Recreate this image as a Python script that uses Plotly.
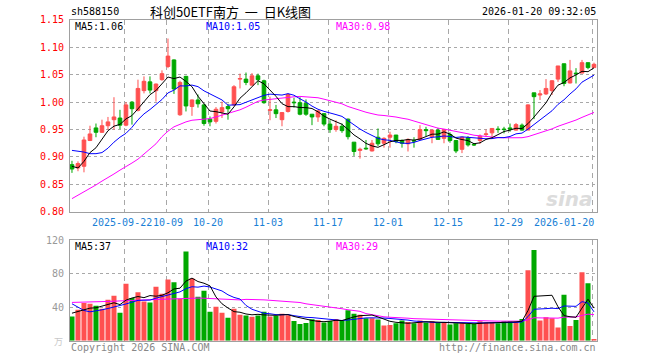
import plotly.graph_objects as go

W, H = 660, 360

# ---------------- data ----------------
opens = [0.886, 0.880, 0.883, 0.930, 0.953, 0.945, 0.957, 0.968, 0.971, 0.958,
         1.000, 0.985, 1.021, 1.037, 1.021, 1.041, 1.065, 1.077, 0.977, 1.047,
         0.992, 1.004, 0.995, 0.969, 0.965, 0.982, 0.992, 0.995, 1.042, 1.042,
         1.031, 1.048, 1.039, 0.985, 0.986, 0.968, 0.983, 1.000, 0.999, 0.998,
         0.978, 0.973, 0.979, 0.960, 0.950, 0.956, 0.969, 0.927, 0.912, 0.916,
         0.911, 0.936, 0.925, 0.936, 0.940, 0.930, 0.924, 0.930, 0.932, 0.950,
         0.937, 0.949, 0.934, 0.941, 0.930, 0.914, 0.935, 0.923, 0.930, 0.941,
         0.944, 0.951, 0.951, 0.953, 0.949, 0.958, 0.949, 1.017, 1.013, 1.015,
         1.021, 1.042, 1.070, 1.035, 1.053, 1.053, 1.072, 1.063]
highs = [0.893, 0.892, 0.937, 0.957, 0.961, 0.968, 0.973, 1.009, 0.986, 1.000,
         1.002, 1.041, 1.047, 1.047, 1.034, 1.058, 1.116, 1.078, 1.039, 1.048,
         1.005, 1.014, 0.997, 0.974, 0.991, 1.001, 0.997, 1.031, 1.052, 1.054,
         1.053, 1.052, 1.041, 1.010, 0.995, 0.982, 1.016, 1.008, 1.009, 1.005,
         0.978, 0.986, 0.980, 0.967, 0.967, 0.961, 0.970, 0.927, 0.917, 0.931,
         0.931, 0.952, 0.936, 0.946, 0.940, 0.932, 0.934, 0.936, 0.958, 0.955,
         0.950, 0.953, 0.950, 0.945, 0.930, 0.937, 0.938, 0.925, 0.941, 0.950,
         0.952, 0.956, 0.955, 0.961, 0.962, 0.961, 0.996, 1.017, 1.022, 1.042,
         1.040, 1.066, 1.070, 1.077, 1.062, 1.077, 1.072, 1.072]
lows = [0.871, 0.874, 0.872, 0.929, 0.936, 0.944, 0.950, 0.950, 0.951, 0.956,
        0.959, 0.983, 1.016, 1.016, 1.001, 1.039, 1.062, 1.015, 0.975, 0.983,
        0.975, 0.990, 0.957, 0.956, 0.961, 0.971, 0.968, 0.993, 1.025, 1.031,
        1.031, 1.031, 0.997, 0.967, 0.971, 0.956, 0.981, 0.990, 0.976, 0.975,
        0.958, 0.964, 0.956, 0.944, 0.946, 0.944, 0.932, 0.902, 0.897, 0.913,
        0.910, 0.920, 0.917, 0.917, 0.925, 0.917, 0.910, 0.917, 0.931, 0.938,
        0.925, 0.931, 0.925, 0.926, 0.907, 0.907, 0.919, 0.920, 0.924, 0.937,
        0.937, 0.944, 0.943, 0.946, 0.948, 0.948, 0.949, 0.969, 1.004, 1.013,
        1.013, 1.037, 1.029, 1.034, 1.034, 1.053, 1.060, 1.063]
closes = [0.878, 0.888, 0.931, 0.942, 0.945, 0.957, 0.964, 0.973, 0.958, 0.995,
          0.988, 1.025, 1.038, 1.022, 1.033, 1.052, 1.084, 1.024, 1.036, 0.993,
          1.004, 0.997, 0.961, 0.964, 0.987, 0.990, 0.988, 1.028, 1.043, 1.036,
          1.048, 1.041, 0.999, 0.986, 0.979, 0.981, 1.014, 0.999, 0.978, 0.978,
          0.973, 0.984, 0.960, 0.950, 0.956, 0.948, 0.937, 0.910, 0.914, 0.915,
          0.925, 0.924, 0.934, 0.940, 0.928, 0.925, 0.932, 0.929, 0.950, 0.948,
          0.949, 0.932, 0.950, 0.930, 0.911, 0.936, 0.922, 0.922, 0.938, 0.942,
          0.952, 0.950, 0.950, 0.951, 0.959, 0.949, 0.995, 1.010, 1.015, 1.025,
          1.039, 1.066, 1.034, 1.057, 1.052, 1.072, 1.063, 1.069]
volumes = [28.8, 36.8, 44.8, 44.0, 41.6, 38.0, 48.8, 53.6, 33.2, 68.0,
           50.8, 57.6, 46.8, 45.6, 64.4, 56.0, 72.8, 69.6, 50.0, 106.4,
           74.0, 52.4, 59.6, 34.4, 40.4, 33.2, 27.2, 38.0, 30.8, 30.0,
           28.4, 30.0, 34.4, 28.8, 29.6, 32.0, 30.4, 23.6, 20.0, 21.2,
           25.6, 24.8, 21.6, 23.5, 26.0, 24.0, 36.4, 32.0, 30.8, 26.8,
           26.8, 25.2, 18.0, 18.8, 20.8, 24.0, 22.4, 20.8, 24.0, 21.6,
           23.2, 21.2, 22.0, 19.2, 20.8, 20.8, 20.0, 20.0, 23.2, 21.6,
           21.6, 20.8, 23.2, 23.2, 23.2, 26.0, 84.0, 108.0, 24.0, 28.0,
           26.8, 15.6, 54.8, 17.6, 24.8, 81.6, 68.4, 2.0]

# moving-average values before enough in-window history exists
ma5_head = [0.883, 0.880, 0.892, 0.908]
ma10_head = [0.912, 0.911, 0.909, 0.906, 0.906, 0.908, 0.916, 0.927, 0.936]
ma30_head = [0.824, 0.830, 0.836, 0.843, 0.849, 0.856, 0.862, 0.869, 0.876, 0.882,
             0.889, 0.896, 0.905, 0.914, 0.924, 0.937, 0.947, 0.955, 0.960, 0.964,
             0.967, 0.968, 0.969, 0.970, 0.973, 0.976, 0.979, 0.982, 0.986]
vma5_head = [32.8, 34.8, 36.8, 38.8]
vma10_head = [44.0, 40.0, 36.0, 34.4, 35.2, 36.8, 38.4, 40.0, 41.6]
vma30_head = [45.6, 45.7, 45.8, 45.9, 46.0, 46.2, 46.6, 47.0, 47.4, 47.8,
              48.2, 48.5, 48.8, 49.0, 49.2, 49.4, 49.6, 50.0, 50.4, 50.8,
              50.9, 50.8, 50.6, 50.3, 50.0, 49.6, 49.2, 48.9, 48.6]

tick_index = [9, 16, 23, 33, 43, 53, 63, 73, 87]
tick_labels = ["2025-09-22", "10-09", "10-20", "11-03", "11-17",
               "12-01", "12-15", "12-29", "2026-01-20"]
price_ticks = [0.80, 0.85, 0.90, 0.95, 1.00, 1.05, 1.10, 1.15]
vol_ticks = [40, 80, 120]

# ---------------- helpers ----------------
def moving_avg(vals, n, head):
    out = []
    for i in range(len(vals)):
        if i < n - 1:
            out.append(head[i])
        else:
            out.append(sum(vals[i - n + 1:i + 1]) / n)
    return out

def px(x):
    return x / W

def py(y):
    return 1 - y / H

RED = "#ff5050"
GREEN = "#00a800"
GRID = "#a8a8a8"
FRAME = "#a0a0a0"
MONO = "DejaVu Sans Mono"

n = len(closes)
idx = list(range(n))
vol_colors = [RED if c >= o else GREEN for o, c in zip(opens, closes)]

ma5 = moving_avg(closes, 5, ma5_head)
ma10 = moving_avg(closes, 10, ma10_head)
ma30 = moving_avg(closes, 30, ma30_head)
vma5 = moving_avg(volumes, 5, vma5_head)
vma10 = moving_avg(volumes, 10, vma10_head)
vma30 = moving_avg(volumes, 30, vma30_head)

fig = go.Figure()

fig.add_trace(go.Candlestick(
    x=idx, open=opens, high=highs, low=lows, close=closes,
    increasing=dict(line=dict(color=RED, width=1), fillcolor=RED),
    decreasing=dict(line=dict(color=GREEN, width=1), fillcolor=GREEN),
    whiskerwidth=0, hoverinfo="skip", xaxis="x", yaxis="y", showlegend=False))

for vals, col in [(ma30, "#ff00ff"), (ma10, "#0000ff"), (ma5, "#000000")]:
    fig.add_trace(go.Scatter(x=idx, y=vals, mode="lines",
                             line=dict(color=col, width=1),
                             hoverinfo="skip", showlegend=False,
                             xaxis="x", yaxis="y"))

fig.add_trace(go.Bar(x=idx, y=volumes, marker=dict(color=vol_colors, line=dict(width=0)),
                     width=0.84, hoverinfo="skip", showlegend=False,
                     xaxis="x2", yaxis="y2"))
for vals, col in [(vma30, "#ff00ff"), (vma10, "#0000ff"), (vma5, "#000000")]:
    fig.add_trace(go.Scatter(x=idx, y=vals, mode="lines",
                             line=dict(color=col, width=1),
                             hoverinfo="skip", showlegend=False,
                             xaxis="x2", yaxis="y2"))

x_dom = [px(70), px(597)]
x_range = [-0.33, n - 0.5]
grid_x = [t - 0.3 for t in tick_index]

xcommon = dict(range=x_range, domain=x_dom, showline=True, mirror=True,
               linecolor=FRAME, linewidth=1, tickvals=grid_x, showticklabels=False,
               showgrid=True, gridcolor=GRID, gridwidth=1, griddash="5px,4px",
               zeroline=False, ticks="", automargin=False, fixedrange=True)

fig.update_layout(
    width=W, height=H, template="none",
    paper_bgcolor="white", plot_bgcolor="white",
    margin=dict(l=0, r=0, t=0, b=0),
    boxgap=0.14,
    xaxis=dict(xcommon, anchor="y", rangeslider=dict(visible=False)),
    xaxis2=dict(xcommon, anchor="y2"),
    yaxis=dict(domain=[py(211.8), py(19.9)], range=[0.80, 1.15],
               tickvals=price_ticks, ticktext=["%.2f" % v for v in price_ticks],
               tickfont=dict(family=MONO, size=10, color="#ff0000"),
               showline=True, mirror=True, linecolor=FRAME, linewidth=1,
               showgrid=True, gridcolor=GRID, griddash="dot", gridwidth=1,
               zeroline=False, ticks="", ticklabelstandoff=3,
               automargin=False, fixedrange=True),
    yaxis2=dict(domain=[py(340.7), py(240)], range=[0, 120],
                tickvals=vol_ticks, ticktext=[str(v) for v in vol_ticks],
                tickfont=dict(family=MONO, size=10, color="#999999"),
                showline=True, mirror=True, linecolor=FRAME, linewidth=1,
                showgrid=True, gridcolor=GRID, griddash="dot", gridwidth=1,
                zeroline=False, ticks="", ticklabelstandoff=3,
                automargin=False, fixedrange=True),
)

ann = []

def text(x, y, s, color="#000000", size=10, anchor="left", family=MONO, **kw):
    ann.append(dict(x=px(x), y=py(y), xref="paper", yref="paper", text=s,
                    showarrow=False, xanchor=anchor, yanchor="middle",
                    font=dict(family=family, size=size, color=color, **kw)))

# header
text(69, 12, "sh588150")
text(231, 12, "科创50ETF南方\u00a0\u00a0一\u00a0\u00a0日K线图", size=13, anchor="center",
     family="Noto Sans CJK SC")
text(598, 12, "2026-01-20 09:32:05", anchor="right")
# main MA legend
text(73, 27, "MA5:1.06")
text(204, 27, "MA10:1.05", color="#0000ff")
text(334, 27, "MA30:0.98", color="#ff00ff")
# volume MA legend
text(73, 246, "MA5:37")
text(204, 246, "MA10:32", color="#0000ff")
text(334, 246, "MA30:29", color="#ff00ff")
# footer
text(69, 347, "Copyright 2026 SINA.COM", color="#888888")
text(598, 347, "http://finance.sina.com.cn", color="#888888", anchor="right")
text(58, 341, "万", color="#c8c8c8", size=9, anchor="center", family="Noto Sans CJK SC")
# watermark
text(569, 199, "sina", color="#dcdcdc", size=20, anchor="center",
     family="DejaVu Sans", weight="bold", style="italic")

# date labels under the main chart (first two nudged apart so they just abut)
label_nudge = {9: -0.35, 16: 0.3}
for t, lab in zip(tick_index, tick_labels):
    last = (t == tick_index[-1])
    xpos = (t + 0.35) if last else (t - 0.3 + label_nudge.get(t, 0.0))
    ann.append(dict(x=xpos, y=py(222), xref="x", yref="paper",
                    text=lab, showarrow=False,
                    xanchor="right" if last else "center", yanchor="middle",
                    font=dict(family=MONO, size=10, color="#1a7fd6")))

fig.update_layout(annotations=ann)

# remove the default page margin so the figure sits at the window's top-left corner
fig.write_html("out.html",
               config={"displayModeBar": False, "staticPlot": True},
               post_script="document.body.style.margin='0';document.body.style.overflow='hidden';")
